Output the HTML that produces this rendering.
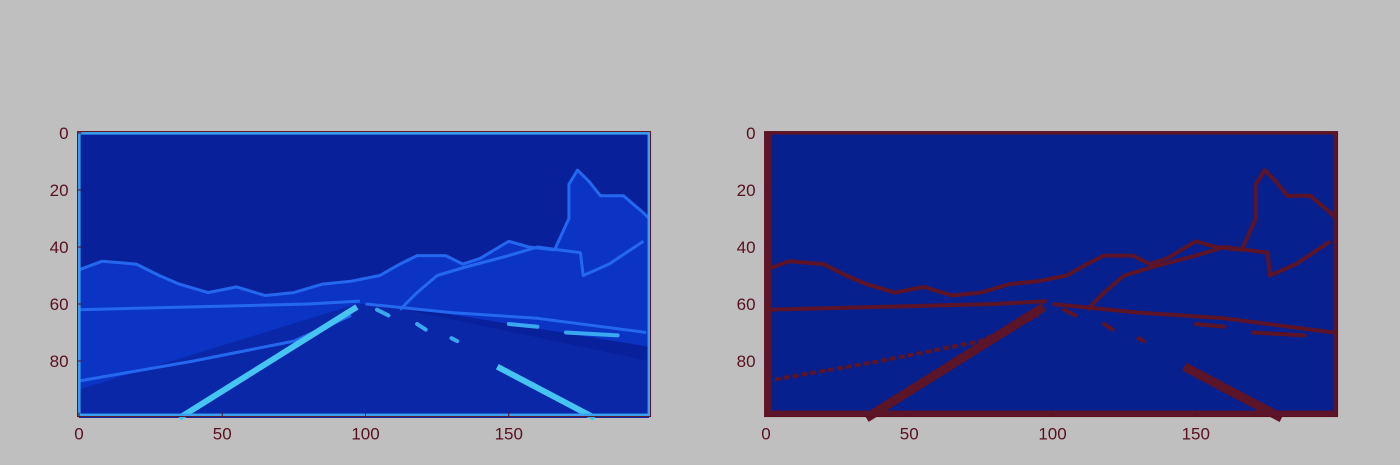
<!DOCTYPE html>
<html><head><meta charset="utf-8"><style>
html,body{margin:0;padding:0;background:#bfbfbf;}
svg{display:block;font-family:"Liberation Sans",sans-serif;}
</style></head><body>
<svg id="fig" width="1400" height="465" viewBox="0 0 1400 465" xmlns="http://www.w3.org/2000/svg">
<rect width="1400" height="465" fill="#bfbfbf"/>
</svg>
<script>
const xTicks=[0,50,100,150];
const yTicks=[0,20,40,60,80];
const nCols=200, nRows=100;
// scene contours in image (col,row) coords
const hillOutline=[[0,48],[8,45],[20,46],[28,50],[35,53],[45,56],[55,54],[65,57],[75,56],[85,53],[95,52],[105,50],[112,46],[118,43],[128,43],[134,46],[140,44],[150,38],[157,40],[166,41],[171,30],[171,18],[174,13],[178,17],[182,22],[190,22],[197,28],[199,30]];
const ridgeLine=[[112,62],[118,56],[125,50],[135,47],[150,43],[160,40],[175,42],[176,50],[185,46],[197,38]];
const horizonRight=[[100,60],[130,63],[160,65],[198,70]];
const horizonLeft=[[0,62],[40,61],[80,60],[98,59]];
const farLeftLine=[[0,87],[40,80],[75,73],[95,64]];
const leftLane=[[35,100],[97,61]];
const rightLane=[[146,82],[180,100]];
const dashes=[[[104,62],[108,64]],[[118,67],[121,69]],[[130,72],[132,73]],[[150,67],[160,68]],[[170,70],[188,71]]];
const panels=[{x0:79,y0:133,name:'left'},{x0:766,y0:133,name:'right'}];
const sx=2.865, sy=2.85;
const NS='http://www.w3.org/2000/svg';
const svg=document.getElementById('fig');
function el(t,a,p){const e=document.createElementNS(NS,t);for(const k in a)e.setAttribute(k,a[k]);(p||svg).appendChild(e);return e;}
function pts(P,arr){return arr.map(p=>(P.x0+p[0]*sx).toFixed(1)+','+(P.y0+p[1]*sy).toFixed(1)).join(' ');}
panels.forEach((P,i)=>{
  const g=el('g',{});
  
  
  const L=P.x0-0.5*sx, T=P.y0-0.5*sy, W=nCols*sx, H=nRows*sy;
  const left=i===0;
  const sky=left?'#08209a':'#06208e';
  const edge=left?'#2468f0':'#5c1428';
  const bright=left?'#46c4f2':'#5c1428';
  el('rect',{x:L,y:T,width:W,height:H,fill:sky},g);
  if(left){
    const ground=hillOutline.concat([[199,75],[120,62],[98,60],[0,95]]);
    el('polygon',{points:pts(P,ground),fill:'#0b34c4'},g);
    el('polygon',{points:pts(P,[[0,100],[0,90],[97,60],[105,60],[199,80],[199,100]]),fill:'#0a27a8'},g);
  }
  const sw=left?3:4;
  [hillOutline,ridgeLine,horizonRight,horizonLeft,farLeftLine].forEach((c,j)=>{
    const pl=el('polyline',{points:pts(P,c),fill:'none',stroke:edge,'stroke-width':sw,'stroke-linejoin':'round','stroke-dasharray':j===4&&!left?'6 3':'none'},g);
    
    
  });
  [leftLane,rightLane].forEach(c=>{
    const ln=el('polyline',{points:pts(P,c),fill:'none',stroke:bright,'stroke-width':left?6:9,'stroke-linecap':'butt'},g);
    
    
  });
  dashes.forEach(c=>{
    const d=el('polyline',{points:pts(P,c),fill:'none',stroke:left?'#3aa8f0':edge,'stroke-width':4,'stroke-linecap':'round'},g);
    
    
  });
  // image border edge
  if(left){
    el('rect',{x:L+1.5,y:T+1.5,width:W-3,height:H-3,fill:'none',stroke:'#3aa0f0','stroke-width':3},g);
  } else {
    el('rect',{x:L,y:T,width:7,height:H,fill:edge},g);
    el('rect',{x:L,y:T+H-6,width:W,height:6,fill:edge},g);
    el('rect',{x:L,y:T,width:W,height:3,fill:edge},g);
    el('rect',{x:L+W-4,y:T,width:4,height:H,fill:edge},g);
  }
  el('rect',{x:L,y:T,width:W,height:H,fill:'none',stroke:'#5a0f1e','stroke-width':1},g);
  xTicks.forEach(v=>{
    const x=P.x0+v*sx;
    el('line',{x1:x,y1:T+H,x2:x,y2:T+H-4,stroke:'#5a0f1e'},g);
    const t=el('text',{x:x,y:T+H+23,'text-anchor':'middle','font-size':17,fill:'#5a0f1e'},g);
    t.textContent=v;
    
    
  });
  yTicks.forEach(v=>{
    const y=P.y0+v*sy;
    el('line',{x1:L,y1:y,x2:L+4,y2:y,stroke:'#5a0f1e'},g);
    const t=el('text',{x:L-9,y:y+6,'text-anchor':'end','font-size':17,fill:'#5a0f1e'},g);
    t.textContent=v;
    
    
  });
});
</script>
</body></html>
